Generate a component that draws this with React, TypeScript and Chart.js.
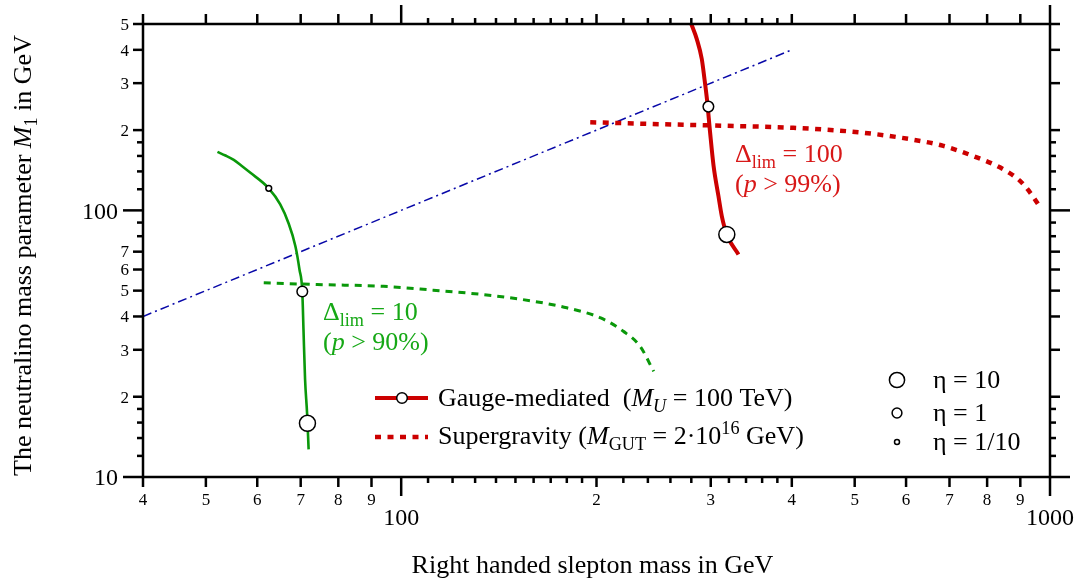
import { useEffect, useRef } from 'react';
import { Chart, registerables } from 'chart.js';

Chart.register(...registerables);

const FONT = '"Liberation Serif", "Times New Roman", serif';
const GREEN = '#0a980a';
const GREEN_TEXT = '#16a816';
const RED = '#cc0000';
const RED_TEXT = '#d81818';
const BLUE = '#0808a8';

// Gauge-mediated, Delta_lim = 10 (green solid)
const greenGaugeX = [52.1, 53.6, 55.2, 56.8, 58.5, 62.5, 65.1, 67.0, 68.7, 69.7, 70.4, 70.7, 71.1, 71.6, 72.0];
const greenGaugeY = [165.7, 160.6, 154.6, 146.7, 138.6, 121, 105.3, 89.9, 73.4, 60.0, 49.6, 35.7, 23.2, 17.4, 12.7];

// Supergravity, Delta_lim = 10 (green dashed)
const greenSugraX = [61.4, 74.2, 93.9, 112, 134, 160, 180, 203, 220, 233.5, 245];
const greenSugraY = [53.5, 52.7, 51.9, 50.2, 48.3, 45.6, 43.1, 39.5, 35.2, 30.9, 24.9];

// Gauge-mediated, Delta_lim = 100 (red solid)
const redGaugeX = [280, 285.5, 290.6, 293.4, 296, 299.3, 303, 308.3, 312, 317.6, 331];
const redGaugeY = [500, 439, 369.5, 311, 261, 196, 147, 113.2, 95.2, 81.2, 68.3];

// Supergravity, Delta_lim = 100 (red dotted)
const redSugraX = [195.6, 250.6, 317.6, 402, 510, 608, 685, 771, 837, 899, 932, 963];
const redSugraY = [214, 210.5, 207.5, 204, 196, 185, 174.5, 158, 145, 129, 116.6, 103.8];

// M1 = slepton mass (blue dash-dot)
const diagX = [40, 400];
const diagY = [40, 400];

// eta markers on the gauge-mediated curves
const greenEtaX = [62.5, 70.4, 71.7];
const greenEtaY = [121, 49.6, 15.9];
const greenEta = [0.1, 1, 10];
const redEtaX = [297.5, 317.6];
const redEtaY = [245, 81.2];
const redEta = [1, 10];
const legendEta = [10, 1, 0.1];
const legendEtaText = ['η = 10', 'η = 1', 'η = 1/10'];

// axis ticks
const xMajorTicks = [40, 50, 60, 70, 80, 90, 100, 200, 300, 400, 500, 600, 700, 800, 900, 1000];
const xTickLabels = ['4', '5', '6', '7', '8', '9', '100', '2', '3', '4', '5', '6', '7', '8', '9', '1000'];
const xMinorTicks = [110, 120, 130, 140, 150, 160, 170, 180, 190, 220, 240, 260, 280, 320, 340, 360, 380];
const yMajorTicks = [10, 20, 30, 40, 50, 60, 70, 100, 200, 300, 400, 500];
const yTickLabels = ['10', '2', '3', '4', '5', '6', '7', '100', '2', '3', '4', '5'];
const yMinorTicks = [12, 14, 16, 18, 80, 90, 120, 140, 160, 180];

type Run = { t: string; i?: boolean; sub?: boolean; sup?: boolean };

const pts = (xs: number[], ys: number[]) => xs.map((v, i) => ({ x: v, y: ys[i] }));
const etaRadius = (eta: number) => (eta >= 10 ? 8 : eta >= 1 ? 5.3 : 2.9);
const isDecade = (v: number) => v === 10 || v === 100 || v === 1000;

function drawRich(ctx: CanvasRenderingContext2D, runs: Run[], x: number, y: number, size: number, color: string, align = 'left') {
  const fontFor = (r: Run) => `${r.i ? 'italic ' : ''}${r.sub || r.sup ? size * 0.7 : size}px ${FONT}`;
  let total = 0;
  runs.forEach(r => { ctx.font = fontFor(r); total += ctx.measureText(r.t).width; });
  let cx = align === 'center' ? x - total / 2 : align === 'right' ? x - total : x;
  ctx.fillStyle = color;
  ctx.textAlign = 'left';
  ctx.textBaseline = 'alphabetic';
  runs.forEach(r => {
    ctx.font = fontFor(r);
    const dy = r.sub ? size * 0.22 : r.sup ? -size * 0.4 : 0;
    ctx.fillText(r.t, cx, y + dy);
    cx += ctx.measureText(r.t).width;
  });
}

function circle(ctx: CanvasRenderingContext2D, x: number, y: number, r: number) {
  ctx.beginPath();
  ctx.arc(x, y, r, 0, Math.PI * 2);
  ctx.fillStyle = '#fff';
  ctx.fill();
  ctx.lineWidth = 1.5;
  ctx.strokeStyle = '#000';
  ctx.setLineDash([]);
  ctx.stroke();
}

const framePlugin = {
  id: 'frameAxes',
  afterDatasetsDraw(chart: any) {
    const { ctx, chartArea: a, scales } = chart;
    const sx = scales.x;
    const sy = scales.y;
    ctx.save();
    ctx.strokeStyle = '#000';
    ctx.lineWidth = 2.5;
    ctx.setLineDash([]);
    ctx.strokeRect(a.left, a.top, a.right - a.left, a.bottom - a.top);
    const seg = (x1: number, y1: number, x2: number, y2: number) => {
      ctx.beginPath(); ctx.moveTo(x1, y1); ctx.lineTo(x2, y2); ctx.stroke();
    };
    xMajorTicks.forEach(v => {
      const px = sx.getPixelForValue(v);
      const len = isDecade(v) ? 19 : 10;
      seg(px, a.bottom, px, a.bottom + len);
      seg(px, a.top, px, a.top - len);
    });
    xMinorTicks.forEach(v => {
      const px = sx.getPixelForValue(v);
      seg(px, a.bottom, px, a.bottom + 6);
      seg(px, a.top, px, a.top - 6);
    });
    yMajorTicks.forEach(v => {
      const py = sy.getPixelForValue(v);
      const len = isDecade(v) ? 20 : 10;
      seg(a.left, py, a.left - len, py);
      seg(a.right, py, a.right + len, py);
    });
    yMinorTicks.forEach(v => {
      const py = sy.getPixelForValue(v);
      seg(a.left, py, a.left - 6, py);
      seg(a.right, py, a.right + 6, py);
    });

    // tick labels
    ctx.fillStyle = '#000';
    ctx.textBaseline = 'alphabetic';
    xMajorTicks.forEach((v, i) => {
      const px = sx.getPixelForValue(v);
      const big = isDecade(v);
      ctx.font = `${big ? 24 : 17}px ${FONT}`;
      ctx.textAlign = 'center';
      ctx.fillText(xTickLabels[i], px, a.bottom + (big ? 48 : 28));
    });
    yMajorTicks.forEach((v, i) => {
      const py = sy.getPixelForValue(v);
      const big = isDecade(v);
      const size = big ? 24 : 17;
      ctx.font = `${size}px ${FONT}`;
      ctx.textAlign = 'right';
      ctx.fillText(yTickLabels[i], a.left - (big ? 25 : 14), py + size * 0.34);
    });

    // axis titles
    drawRich(ctx, [{ t: 'Right handed slepton mass in GeV' }], (a.left + a.right) / 2 - 4, a.bottom + 96, 26, '#000', 'center');
    ctx.save();
    ctx.translate(31, (a.top + a.bottom) / 2 + 5);
    ctx.rotate(-Math.PI / 2);
    drawRich(ctx, [{ t: 'The neutralino mass parameter ' }, { t: 'M', i: true }, { t: '1', sub: true }, { t: ' in GeV' }], 0, 0, 26, '#000', 'center');
    ctx.restore();

    // curve annotations
    drawRich(ctx, [{ t: 'Δ' }, { t: 'lim', sub: true }, { t: ' = 10' }], a.left + 180, a.top + 296, 26, GREEN_TEXT);
    drawRich(ctx, [{ t: '(' }, { t: 'p', i: true }, { t: ' > 90%)' }], a.left + 180, a.top + 326, 26, GREEN_TEXT);
    drawRich(ctx, [{ t: 'Δ' }, { t: 'lim', sub: true }, { t: ' = 100' }], a.left + 592, a.top + 138, 26, RED_TEXT);
    drawRich(ctx, [{ t: '(' }, { t: 'p', i: true }, { t: ' > 99%)' }], a.left + 592, a.top + 168, 26, RED_TEXT);

    // model legend
    const lx = a.left + 232;
    const ly1 = a.top + 374;
    const ly2 = a.top + 413;
    ctx.strokeStyle = RED;
    ctx.lineWidth = 4;
    seg(lx, ly1, lx + 53, ly1);
    circle(ctx, lx + 27, ly1, 5.3);
    ctx.strokeStyle = RED;
    ctx.lineWidth = 4.5;
    ctx.setLineDash([6, 6.5]);
    seg(lx, ly2, lx + 53, ly2);
    ctx.setLineDash([]);
    drawRich(ctx, [{ t: 'Gauge-mediated  (' }, { t: 'M', i: true }, { t: 'U', i: true, sub: true }, { t: ' = 100 TeV)' }], lx + 63, ly1 + 8, 26, '#000');
    drawRich(ctx, [{ t: 'Supergravity (' }, { t: 'M', i: true }, { t: 'GUT', sub: true }, { t: ' = 2·10' }, { t: '16', sup: true }, { t: ' GeV)' }], lx + 63, ly2 + 7, 26, '#000');

    // eta legend
    const ex = a.left + 754;
    const eys = [a.top + 356, a.top + 389, a.top + 418];
    legendEta.forEach((eta, i) => {
      circle(ctx, ex, eys[i], etaRadius(eta) - 0.4);
      drawRich(ctx, [{ t: legendEtaText[i] }], ex + 36, eys[i] + 8, 26, '#000');
    });
    ctx.restore();
  },
};

export default function App() {
  const canvasRef = useRef<HTMLCanvasElement>(null);

  useEffect(() => {
    if (!canvasRef.current) return;
    const chart = new Chart(canvasRef.current, {
      type: 'line',
      data: {
        datasets: [
          {
            label: 'eta green',
            data: pts(greenEtaX, greenEtaY),
            showLine: false,
            pointRadius: (c: any) => etaRadius(greenEta[c.dataIndex]),
            pointBackgroundColor: '#fff',
            pointBorderColor: '#000',
            pointBorderWidth: 1.5,
            order: 0,
          },
          {
            label: 'eta red',
            data: pts(redEtaX, redEtaY),
            showLine: false,
            pointRadius: (c: any) => etaRadius(redEta[c.dataIndex]),
            pointBackgroundColor: '#fff',
            pointBorderColor: '#000',
            pointBorderWidth: 1.5,
            order: 0,
          },
          {
            label: 'gauge 10',
            data: pts(greenGaugeX, greenGaugeY),
            borderColor: GREEN,
            borderWidth: 2.6,
            cubicInterpolationMode: 'monotone',
            pointRadius: 0,
            order: 1,
          },
          {
            label: 'sugra 10',
            data: pts(greenSugraX, greenSugraY),
            borderColor: GREEN,
            borderWidth: 3,
            borderDash: [7, 6],
            cubicInterpolationMode: 'monotone',
            pointRadius: 0,
            order: 1,
          },
          {
            label: 'gauge 100',
            data: pts(redGaugeX, redGaugeY),
            borderColor: RED,
            borderWidth: 4,
            cubicInterpolationMode: 'monotone',
            pointRadius: 0,
            order: 1,
          },
          {
            label: 'sugra 100',
            data: pts(redSugraX, redSugraY),
            borderColor: RED,
            borderWidth: 4.5,
            borderDash: [6, 6.5],
            cubicInterpolationMode: 'monotone',
            pointRadius: 0,
            order: 1,
          },
          {
            label: 'diagonal',
            data: pts(diagX, diagY),
            borderColor: BLUE,
            borderWidth: 1.5,
            borderDash: [9, 4, 2, 4],
            pointRadius: 0,
            order: 2,
          },
        ],
      },
      options: {
        responsive: true,
        maintainAspectRatio: false,
        animation: false,
        layout: { padding: { left: 143, right: 27, top: 24, bottom: 102 } },
        scales: {
          x: { type: 'logarithmic', min: 40, max: 1000, display: false },
          y: { type: 'logarithmic', min: 10, max: 500, display: false },
        },
        plugins: {
          legend: { display: false },
          tooltip: { enabled: false },
        },
      },
      plugins: [framePlugin],
    });
    return () => chart.destroy();
  }, []);

  return (
    <div style={{ position: 'absolute', left: 0, top: 0, width: 1077, height: 579, background: '#fff' }}>
      <canvas ref={canvasRef} />
    </div>
  );
}
